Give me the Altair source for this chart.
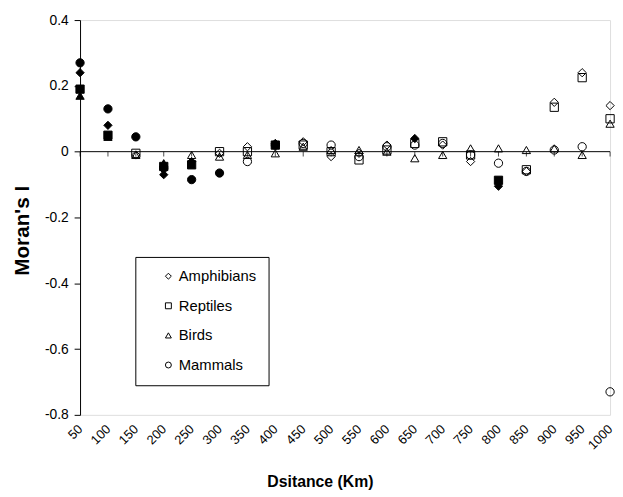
import altair as alt
import pandas as pd

distances = [50, 100, 150, 200, 250, 300, 350, 400, 450, 500,
             550, 600, 650, 700, 750, 800, 850, 900, 950, 1000]
species = ["Amphibians", "Reptiles", "Birds", "Mammals"]

amphibians = [0.24, 0.08, -0.01, -0.07, -0.03, -0.005, 0.015, 0.025, 0.03, -0.015,
              -0.005, 0.02, 0.04, 0.02, -0.03, -0.105, -0.06, 0.15, 0.24, 0.14]
amphibians_sig = [1, 1, 0, 1, 1, 0, 0, 1, 0, 0, 0, 0, 1, 0, 0, 1, 0, 0, 0, 0]

reptiles = [0.19, 0.05, -0.005, -0.045, -0.04, 0.0, 0.0, 0.02, 0.02, 0.0,
            -0.025, 0.005, 0.025, 0.03, -0.01, -0.087, -0.055, 0.135, 0.225, 0.1]
reptiles_sig = [1, 1, 0, 1, 1, 0, 0, 1, 0, 0, 0, 0, 0, 0, 0, 1, 0, 0, 0, 0]

birds = [0.17, 0.045, -0.01, -0.035, -0.01, -0.015, -0.01, -0.005, 0.015, 0.005,
         0.005, 0.0, -0.02, -0.01, 0.01, 0.01, 0.005, 0.01, -0.01, 0.085]
birds_sig = [1, 1, 0, 1, 0, 0, 0, 0, 0, 0, 0, 0, 0, 0, 0, 0, 0, 0, 0, 0]

mammals = [0.27, 0.13, 0.045, -0.05, -0.085, -0.065, -0.03, 0.02, 0.025, 0.02,
           -0.015, 0.015, 0.02, 0.025, -0.01, -0.035, -0.06, 0.005, 0.015, -0.73]
mammals_sig = [1, 1, 1, 1, 1, 1, 0, 1, 0, 0, 0, 0, 0, 0, 0, 0, 0, 0, 0, 0]

y_ticks = [-0.8, -0.6, -0.4, -0.2, 0, 0.2, 0.4]

rows = []
for name, vals, sig in [("Amphibians", amphibians, amphibians_sig),
                        ("Reptiles", reptiles, reptiles_sig),
                        ("Birds", birds, birds_sig),
                        ("Mammals", mammals, mammals_sig)]:
    for d, v, s in zip(distances, vals, sig):
        rows.append({"distance": d, "value": v, "sig": s, "species": name})
df = pd.DataFrame(rows)
ticks_df = pd.DataFrame({"distance": distances, "value": [0] * len(distances)})
zero_df = pd.DataFrame({"start": [distances[0]], "end": [distances[-1]], "value": [0]})

FONT = "Liberation Sans"

x_scale = alt.Scale(domain=[50, 1000], nice=False, zero=False)
y_scale = alt.Scale(domain=[-0.8, 0.4], nice=False, zero=False)

x_axis = alt.Axis(values=distances, format="d", labelAngle=-45, labelAlign="right",
                  labelBaseline="middle", domain=False, ticks=False,
                  grid=False, labelPadding=12, labelFontSize=13,
                  labelOverlap=False, labelFlush=False, labelBound=False,
                  labelColor="black", labelFont=FONT,
                  title="Dsitance (Km)", titleFontSize=16,
                  titleFontWeight="bold", titleFont=FONT,
                  titleColor="black", titleX=243, titleY=68,
                  titleAlign="center", titleBaseline="middle")
y_axis = alt.Axis(values=y_ticks, grid=False, tickSize=6,
                  domainColor="black", tickColor="black",
                  labelExpr="datum.value == 0 ? '0' : replace(format(datum.value, '.1f'), '\u2212', '-')",
                  labelFontSize=14, labelColor="black", labelFont=FONT,
                  labelPadding=6, labelOverlap=False,
                  title="Moran's I", titleFontSize=21, titleFontWeight="bold",
                  titleFont=FONT, titleColor="black", titleX=-48, titleY=213,
                  titleAlign="center", titleBaseline="bottom", titleAngle=-90)

points = alt.Chart(df).mark_point(size=70, stroke="black", strokeWidth=1,
                                  opacity=1).encode(
    x=alt.X("distance:Q", scale=x_scale, axis=x_axis),
    y=alt.Y("value:Q", scale=y_scale, axis=y_axis),
    shape=alt.Shape("species:N",
                    scale=alt.Scale(domain=species,
                                    range=["diamond", "square", "triangle-up", "circle"]),
                    legend=alt.Legend(title=None, orient="none", legendX=56, legendY=240,
                                      strokeColor="black", padding=12, rowPadding=14,
                                      symbolSize=36, symbolFillColor="white",
                                      symbolStrokeColor="black", symbolStrokeWidth=1,
                                      symbolOffset=14, labelFontSize=15, labelFont=FONT,
                                      labelColor="black", labelOffset=3)),
    fill=alt.condition(alt.datum.sig == 1, alt.value("black"), alt.value("transparent")),
)

zero_line = alt.Chart(zero_df).mark_rule(color="black", strokeWidth=1).encode(
    x=alt.X("start:Q", scale=x_scale, axis=x_axis),
    x2="end:Q",
    y=alt.Y("value:Q", scale=y_scale, axis=y_axis),
)
zero_ticks = alt.Chart(ticks_df).mark_tick(color="black", orient="vertical", size=5,
                                           thickness=1, yOffset=2.5).encode(
    x=alt.X("distance:Q", scale=x_scale, axis=x_axis),
    y=alt.Y("value:Q", scale=y_scale, axis=y_axis),
)

chart = alt.layer(points, zero_line, zero_ticks).properties(
    width=537, height=400,
    autosize=alt.AutoSizeParams(type="none"),
    padding={"left": 73, "top": 9, "right": 5, "bottom": 80},
).configure_view(stroke=None).configure_axis(labelOverlap=False).configure(font=FONT)

chart.save("out.html", embed_options={"renderer": "svg", "actions": False})
